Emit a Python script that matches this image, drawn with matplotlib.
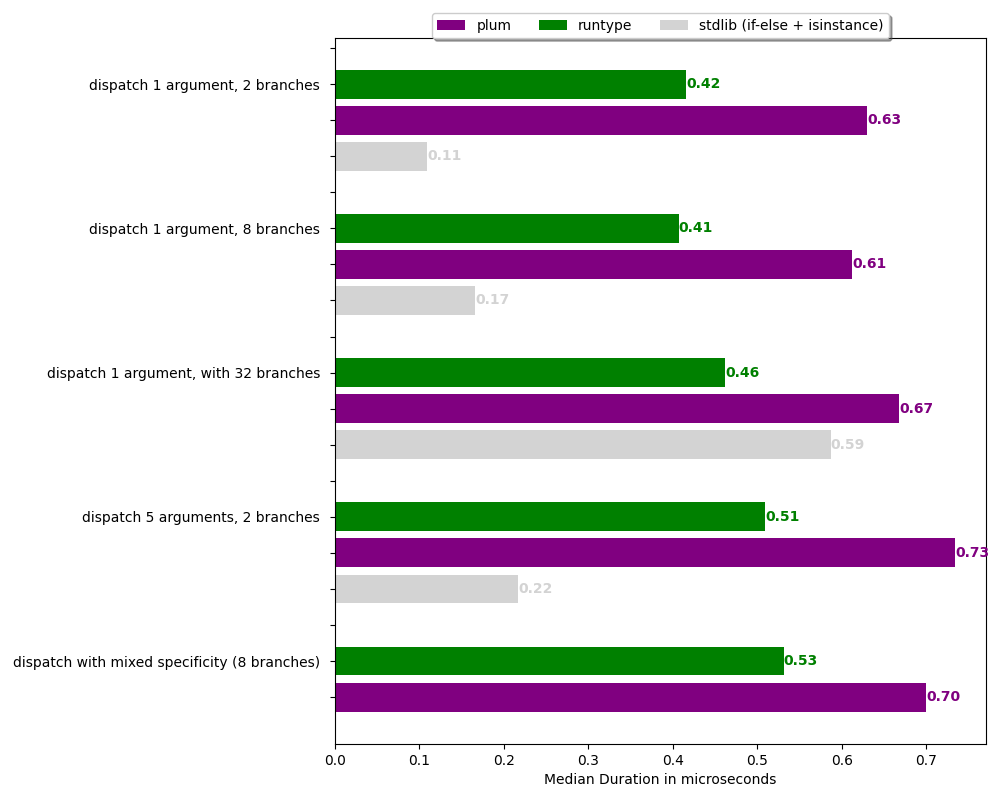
import numpy as np
import matplotlib
matplotlib.use("Agg")
import matplotlib.pyplot as plt

benchmarks = [
    "dispatch 1 argument, 2 branches",
    "dispatch 1 argument, 8 branches",
    "dispatch 1 argument, with 32 branches",
    "dispatch 5 arguments, 2 branches",
    "dispatch with mixed specificity (8 branches)",
]
runtype = [0.416, 0.407, 0.462, 0.509, 0.531]
plum = [0.630, 0.612, 0.668, 0.734, 0.700]
stdlib = [0.109, 0.166, 0.587, 0.217]

fig, ax = plt.subplots(figsize=(10, 8), dpi=100)
fig.subplots_adjust(left=0.335, right=0.986, top=0.9525, bottom=0.07)

n = len(benchmarks)
base = np.arange(n) * 4
pos_runtype = base + 1
pos_plum = base + 2
pos_stdlib = base[:len(stdlib)] + 3

ax.barh(pos_plum, plum, height=0.8, color="purple", label="plum")
ax.barh(pos_runtype, runtype, height=0.8, color="green", label="runtype")
ax.barh(pos_stdlib, stdlib, height=0.8, color="lightgray", label="stdlib (if-else + isinstance)")

for pos, vals, col in [(pos_runtype, runtype, "green"), (pos_plum, plum, "purple"), (pos_stdlib, stdlib, "lightgray")]:
    for p, v in zip(pos, vals):
        ax.text(v, p, f"{v:.2f}", color=col, fontweight="bold", va="center", ha="left")

ticks = np.arange(0, 4 * n - 1)
labels = [""] * len(ticks)
for i, b in enumerate(benchmarks):
    labels[4 * i + 1] = b
ax.set_yticks(ticks)
ax.set_yticklabels(labels)
ax.tick_params(axis="y", pad=7.2)
ax.set_ylim(19.30, -0.28)
ax.set_xlim(0, max(plum) * 1.05)
ax.set_xlabel("Median Duration in microseconds")
ax.legend(loc="upper center", bbox_to_anchor=(0.5, 1.045), ncol=3, fancybox=True, shadow=True)

plt.savefig("out.png")
